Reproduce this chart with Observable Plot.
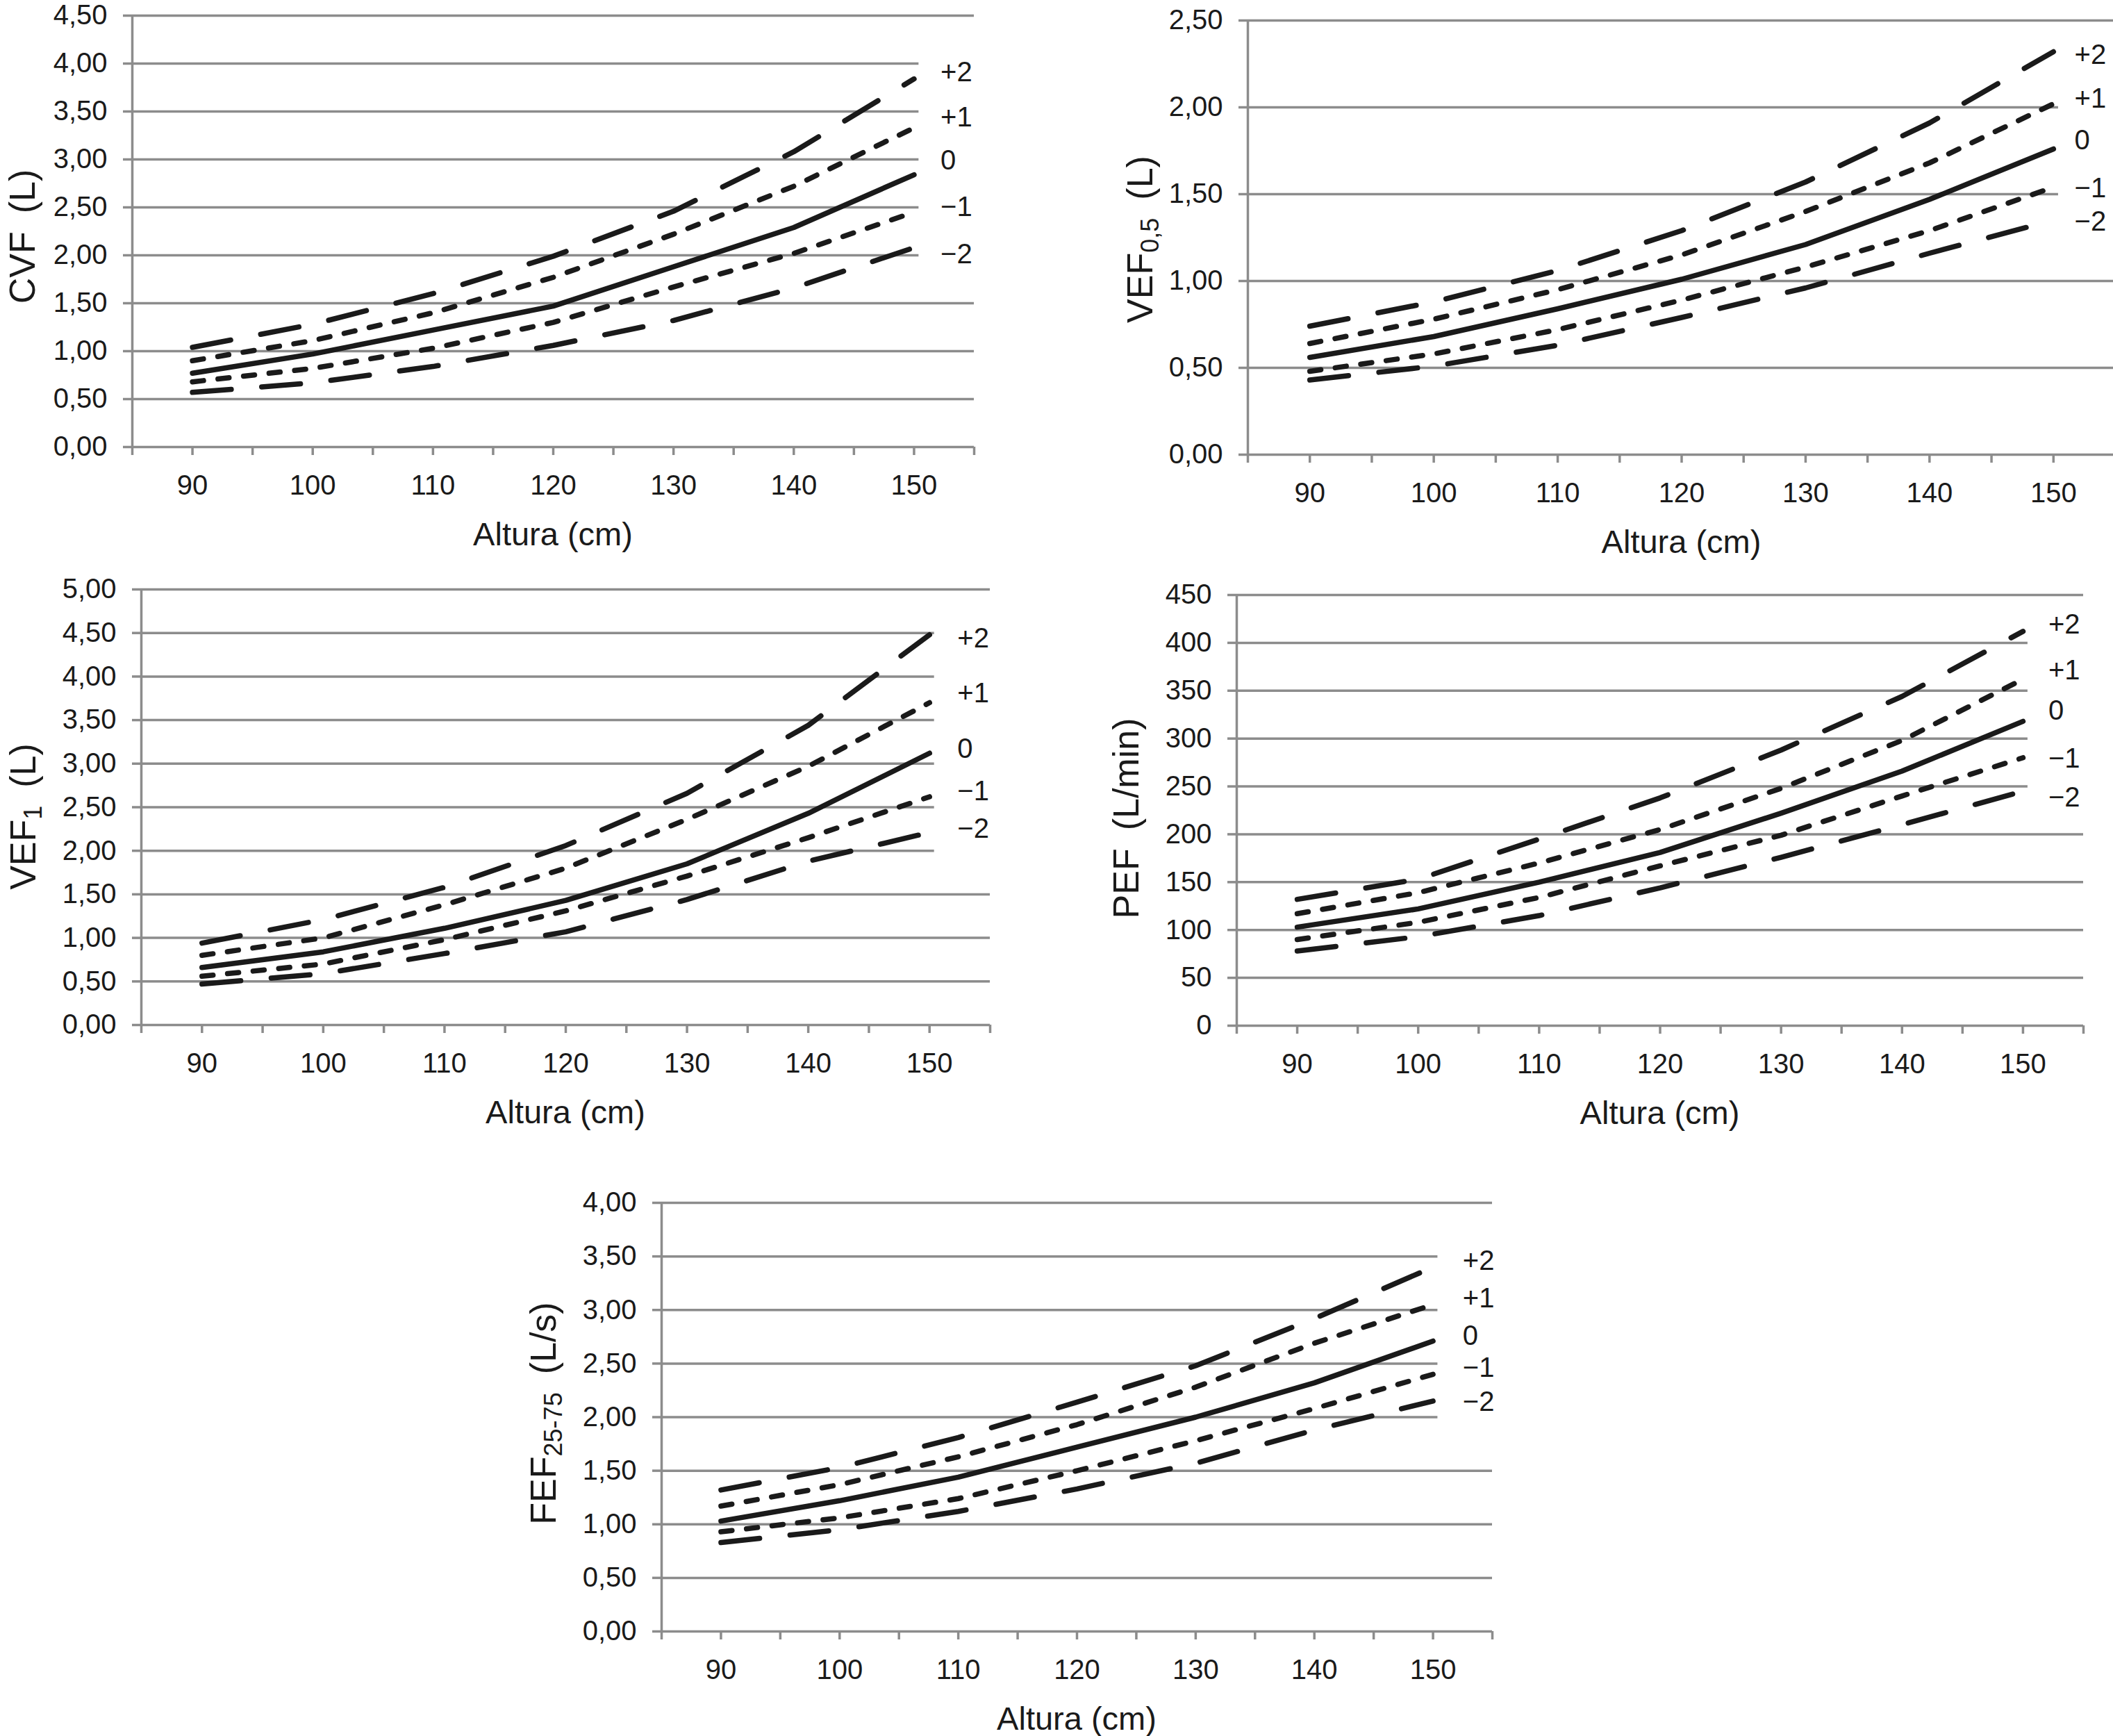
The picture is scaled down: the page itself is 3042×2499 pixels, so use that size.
<!DOCTYPE html>
<html><head><meta charset="utf-8">
<script src="https://cdn.jsdelivr.net/npm/d3@7"></script>
<script src="https://cdn.jsdelivr.net/npm/@observablehq/plot@0.6"></script>
<style>
html,body{margin:0;padding:0;background:#fff;}
#page{position:relative;width:3042px;height:2499px;overflow:hidden;background:#fff;}
#page svg{position:absolute;}
</style></head><body><div id="page"></div>
<script>
// ---------- data ----------
const heights = [90, 100, 110, 120, 130, 140, 150];
const sdLabels = ["+2", "+1", "0", "\u22121", "\u22122"];
const xDomain = [85, 155];
const xTicksMinor = [85, 90, 95, 100, 105, 110, 115, 120, 125, 130, 135, 140, 145, 150, 155];
const xTicksMajor = [90, 100, 110, 120, 130, 140, 150];
const xTitle = "Altura (cm)";

// CVF (L)
const cvfTicks = [0, 0.5, 1, 1.5, 2, 2.5, 3, 3.5, 4, 4.5];
const cvfP2 = [1.04, 1.28, 1.60, 1.99, 2.46, 3.08, 3.84];
const cvfP1 = [0.90, 1.11, 1.40, 1.77, 2.22, 2.72, 3.33];
const cvf0  = [0.77, 0.97, 1.22, 1.47, 1.88, 2.29, 2.84];
const cvfM1 = [0.68, 0.82, 1.03, 1.30, 1.67, 2.02, 2.45];
const cvfM2 = [0.57, 0.67, 0.84, 1.06, 1.32, 1.66, 2.08];
const cvfLabelY = [3.91, 3.44, 2.99, 2.50, 2.01];

// VEF0,5 (L)
const vef05Ticks = [0, 0.5, 1, 1.5, 2, 2.5];
const vef05P2 = [0.74, 0.88, 1.06, 1.29, 1.57, 1.91, 2.32];
const vef05P1 = [0.64, 0.78, 0.95, 1.15, 1.40, 1.68, 2.02];
const vef050  = [0.56, 0.68, 0.84, 1.01, 1.21, 1.47, 1.76];
const vef05M1 = [0.48, 0.58, 0.72, 0.89, 1.08, 1.29, 1.54];
const vef05M2 = [0.43, 0.51, 0.63, 0.79, 0.96, 1.16, 1.35];
const vef05LabelY = [2.30, 2.05, 1.81, 1.535, 1.34];

// VEF1 (L)
const vef1Ticks = [0, 0.5, 1, 1.5, 2, 2.5, 3, 3.5, 4, 4.5, 5];
const vef1P2 = [0.94, 1.21, 1.58, 2.06, 2.66, 3.44, 4.48];
const vef1P1 = [0.80, 1.00, 1.38, 1.80, 2.36, 2.97, 3.70];
const vef10  = [0.66, 0.84, 1.11, 1.43, 1.85, 2.43, 3.12];
const vef1M1 = [0.56, 0.70, 0.98, 1.31, 1.71, 2.15, 2.62];
const vef1M2 = [0.47, 0.59, 0.82, 1.07, 1.44, 1.88, 2.21];
const vef1LabelY = [4.44, 3.81, 3.17, 2.68, 2.25];

// PEF (L/min)
const pefTicks = [0, 50, 100, 150, 200, 250, 300, 350, 400, 450];
const pefP2 = [132, 153, 195, 238, 288, 344, 412];
const pefP1 = [117, 139, 170, 205, 248, 298, 362];
const pef0  = [103, 122, 150, 181, 222, 266, 318];
const pefM1 = [90, 108, 134, 167, 199, 240, 280];
const pefM2 = [78, 93, 115, 144, 176, 210, 245];
const pefLabelY = [419, 371, 329, 279, 238];

// FEF25-75 (L/s)
const fefTicks = [0, 0.5, 1, 1.5, 2, 2.5, 3, 3.5, 4];
const fefP2 = [1.32, 1.53, 1.81, 2.14, 2.48, 2.92, 3.40];
const fefP1 = [1.17, 1.37, 1.63, 1.93, 2.28, 2.69, 3.05];
const fef0  = [1.03, 1.22, 1.44, 1.72, 2.00, 2.32, 2.71];
const fefM1 = [0.93, 1.06, 1.24, 1.50, 1.78, 2.08, 2.40];
const fefM2 = [0.83, 0.95, 1.12, 1.33, 1.57, 1.88, 2.15];
const fefLabelY = [3.46, 3.11, 2.76, 2.46, 2.14];

const gridCut = 150.4;

// ---------- style / layout ----------
const GRID = "#8c8c8c";
const INK = "#1a1a1a";
const FONT = "'Liberation Sans', Arial, Helvetica, sans-serif";
const ML = 200, MR = 10, MT = 20, MB = 175;
const DASHES = ["56,44", "16,21", null, "16,21", "56,44"];
const fmtComma = d => d.toFixed(2).replace(".", ",");
const fmtInt = d => String(d);

const panels = [
  {main: "CVF", sub: "", unit: "(L)", ticks: cvfTicks, fmt: fmtComma,
   series: [cvfP2, cvfP1, cvf0, cvfM1, cvfM2], labelY: cvfLabelY, labelX: 152.2,
   x85: 190, x155: 1402, yTop: 22, y0: 643, titleX: 32, titleDy: 8},
  {main: "VEF", sub: "0,5", unit: "(L)", ticks: vef05Ticks, fmt: fmtComma,
   series: [vef05P2, vef05P1, vef050, vef05M1, vef05M2], labelY: vef05LabelY, labelX: 151.7,
   x85: 1796, x155: 3045, yTop: 29, y0: 654, titleX: 1641, titleDy: 3},
  {main: "VEF", sub: "1", unit: "(L)", ticks: vef1Ticks, fmt: fmtComma,
   series: [vef1P2, vef1P1, vef10, vef1M1, vef1M2], labelY: vef1LabelY, labelX: 152.3,
   x85: 203, x155: 1425, yTop: 848, y0: 1475, titleX: 33, titleDy: 14},
  {main: "PEF", sub: "", unit: "(L/min)", ticks: pefTicks, fmt: fmtInt,
   series: [pefP2, pefP1, pef0, pefM1, pefM2], labelY: pefLabelY, labelX: 152.1,
   x85: 1780, x155: 2999, yTop: 856, y0: 1476, titleX: 1621, titleDy: 12},
  {main: "FEF", sub: "25-75", unit: "(L/s)", ticks: fefTicks, fmt: fmtComma,
   series: [fefP2, fefP1, fef0, fefM1, fefM2], labelY: fefLabelY, labelX: 152.5,
   x85: 952, x155: 2148, yTop: 1731, y0: 2348, titleX: 782, titleDy: -5}
];

const page = document.getElementById("page");

for (const cfg of panels) {
  const innerW = cfg.x155 - cfg.x85, innerH = cfg.y0 - cfg.yTop;
  const width = innerW + ML + MR, height = innerH + MT + MB;
  const step = cfg.ticks[1] - cfg.ticks[0];
  const lo = d3.min(cfg.labelY) - 0.6 * step, hi = d3.max(cfg.labelY) + 0.3 * step;
  const yMax = cfg.ticks[cfg.ticks.length - 1];

  const lineMarks = cfg.series.map((vals, i) =>
    Plot.line(heights.map((h, j) => ({h, v: vals[j]})), {
      x: "h", y: "v", stroke: INK, strokeWidth: 7.5,
      strokeDasharray: DASHES[i], strokeLinecap: "round", strokeLinejoin: "round"
    }));

  const chart = Plot.plot({
    width, height, marginLeft: ML, marginRight: MR, marginTop: MT, marginBottom: MB,
    style: {fontFamily: FONT, fontSize: "40px", background: "white", color: INK, overflow: "visible"},
    x: {domain: xDomain, axis: null},
    y: {domain: [0, yMax], axis: null},
    marks: [
      Plot.ruleY(cfg.ticks, {x1: () => xDomain[0], x2: d => (d >= lo && d <= hi) ? gridCut : xDomain[1], stroke: GRID, strokeWidth: 3.5}),
      Plot.ruleX([xDomain[0]], {y1: () => 0, y2: () => yMax, stroke: GRID, strokeWidth: 3.5}),
      Plot.axisY({ticks: cfg.ticks, tickFormat: cfg.fmt, tickSize: 13, tickPadding: 23, stroke: GRID, strokeWidth: 3.5, fill: INK, fontSize: 40, label: null}),
      Plot.axisX({ticks: xTicksMinor, tickSize: 12, tickFormat: () => "", stroke: GRID, strokeWidth: 3.5, label: null}),
      Plot.axisX({ticks: xTicksMajor, tickSize: 0, tickPadding: 40, fill: INK, fontSize: 40, label: null}),
      ...lineMarks,
      Plot.text(sdLabels.map((t, i) => ({t, y: cfg.labelY[i]})), {
        x: () => cfg.labelX, y: "y", text: "t", textAnchor: "start", fill: INK, fontSize: 40
      })
    ]
  });

  const sx = chart.scale("x"), sy = chart.scale("y");
  const svg = d3.select(chart);
  // x title
  svg.append("text")
    .attr("x", sx.apply(120)).attr("y", sy.apply(0) + 125)
    .attr("text-anchor", "middle").attr("dominant-baseline", "central")
    .attr("font-family", FONT).attr("font-size", 47).attr("fill", INK)
    .text(xTitle);
  // y title (rotated, with optional subscript)
  const left = cfg.x85 - ML, top = cfg.yTop - MT;
  const cy = (sy.apply(0) + sy.apply(yMax)) / 2 + cfg.titleDy;
  const t = svg.append("text")
    .attr("transform", `translate(${cfg.titleX - left},${cy}) rotate(-90)`)
    .attr("text-anchor", "middle").attr("dominant-baseline", "central")
    .attr("font-family", FONT).attr("font-size", 52).attr("fill", INK);
  t.append("tspan").text(cfg.main);
  if (cfg.sub) {
    t.append("tspan").attr("dy", 14).attr("font-size", 36).text(cfg.sub);
    t.append("tspan").attr("dy", -14).text("\u2002" + cfg.unit);
  } else {
    t.append("tspan").text("\u2002" + cfg.unit);
  }

  chart.style.left = left + "px";
  chart.style.top = top + "px";
  page.appendChild(chart);
}
</script>
</body></html>
